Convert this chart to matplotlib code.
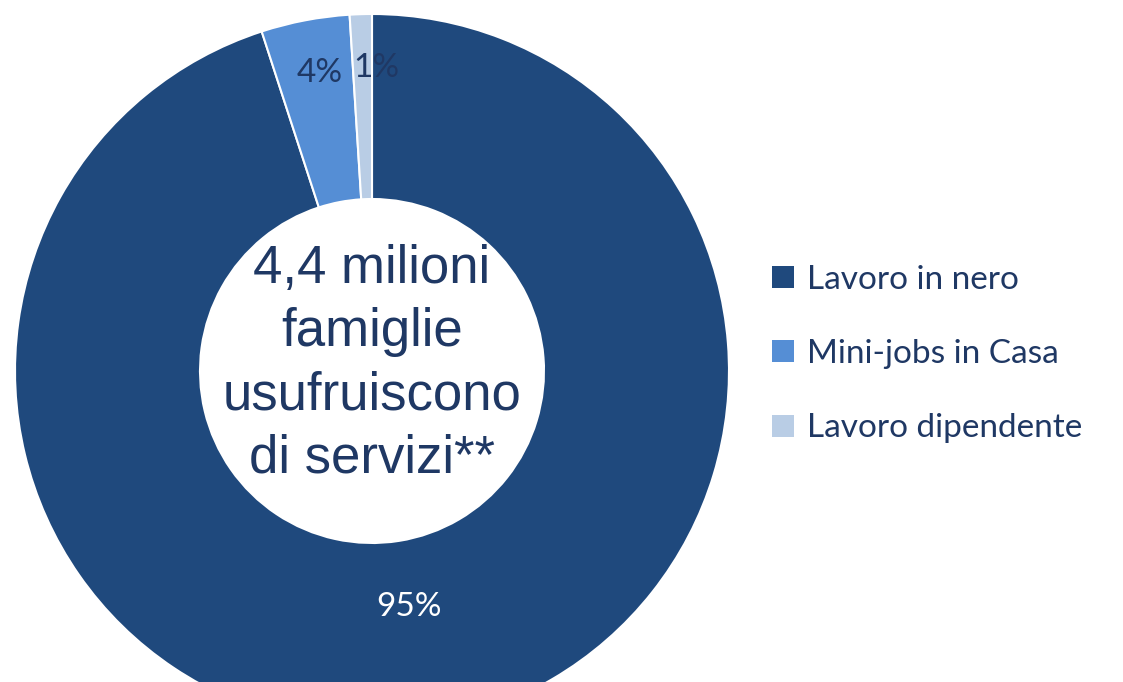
import numpy as np
import matplotlib
matplotlib.use("Agg")
import matplotlib.pyplot as plt
from matplotlib.patches import Patch

# data
categories = ["Lavoro in nero", "Mini-jobs in Casa", "Lavoro dipendente"]
shares = [95, 4, 1]
colors = ["#1F497D", "#558ED5", "#B9CDE5"]
centre_text = "4,4 milioni\nfamiglie\nusufruiscono\ndi servizi**"

W, H = 1123, 682
fig = plt.figure(figsize=(W / 100, H / 100), dpi=100)

# donut: centre (372, 371) px, radius 357 px
cx, cy, r = 372, 371, 357
ax = fig.add_axes([(cx - r) / W, (H - cy - r) / H, 2 * r / W, 2 * r / H])

wedges, texts, pcts = ax.pie(
    shares, colors=colors, startangle=90, counterclock=False, radius=1,
    wedgeprops=dict(width=1 - 172 / 357, edgecolor="white", linewidth=1.5),
    autopct="%d%%", pctdistance=0.85,
    textprops=dict(family=["Lato", "DejaVu Sans"], fontsize=24, color="#1F3864"),
)
ax.set_xlim(-1, 1)
ax.set_ylim(-1, 1)
ax.set_aspect("auto")
ax.axis("off")

# the big slice label sits nearer the hole, in white
w = wedges[0]
ang = np.deg2rad((w.theta1 + w.theta2) / 2)
pcts[0].set_position((0.67 * np.cos(ang), 0.67 * np.sin(ang)))
pcts[0].set_color("white")
# small labels pushed apart a bit so they don't collide
x, y = pcts[2].get_position()
pcts[2].set_position((x + 14 / r, y))
x, y = pcts[1].get_position()
pcts[1].set_position((x + 5 / r, y))

ax.text(0, 0.02, centre_text, ha="center", va="center", fontsize=38,
        family="Liberation Sans", color="#1F3864", linespacing=1.34)

handles = [Patch(facecolor=c, edgecolor="none") for c in colors]
fig.legend(handles, categories, loc="center left",
           bbox_to_anchor=(742 / W, (H - 354) / H), frameon=False,
           prop=dict(family=["Lato", "DejaVu Sans"], size=24),
           labelcolor="#1F3864", handlelength=0.65, handleheight=0.65,
           handletextpad=0.4, labelspacing=1.33)

fig.savefig("out.png", dpi=100)
